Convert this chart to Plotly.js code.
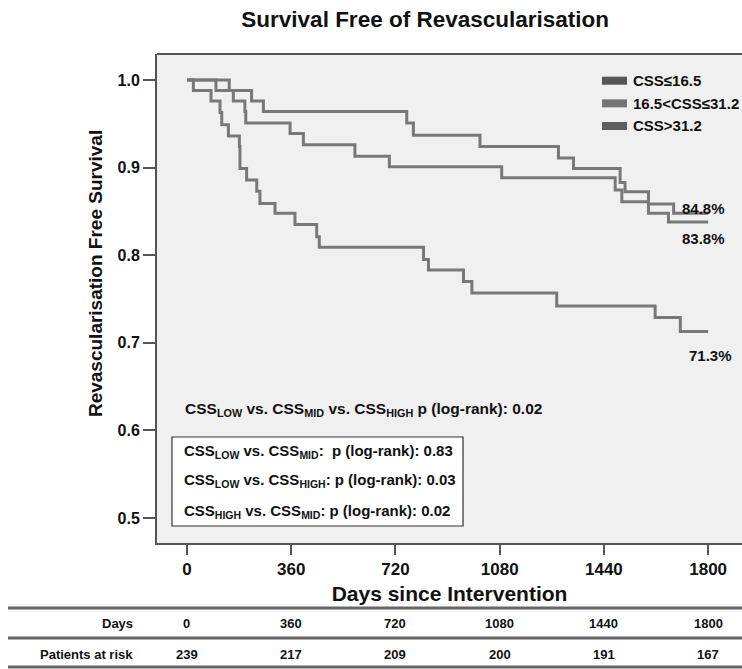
<!DOCTYPE html>
<html>
<head>
<meta charset="utf-8">
<script src="https://cdn.plot.ly/plotly-3.0.1.min.js"></script>
<style>
  html, body { margin: 0; padding: 0; background: #ffffff; }
  #chart { width: 742px; height: 669px; }
</style>
</head>
<body>
<div id="chart"></div>
<script>
// Kaplan-Meier steps: event times (days) and survival after each event
const lowDays  = [0, 146, 223, 264, 759, 782, 1012, 1283, 1335, 1496, 1513, 1594, 1681, 1800];
const lowSurv  = [1, 0.988, 0.976, 0.964, 0.951, 0.937, 0.924, 0.911, 0.899, 0.883, 0.8725, 0.8585, 0.848, 0.848];

const midDays  = [0, 100, 160, 200, 203, 356, 402, 580, 699, 1087, 1479, 1502, 1594, 1663, 1800];
const midSurv  = [1, 0.988, 0.976, 0.964, 0.951, 0.939, 0.926, 0.913, 0.901, 0.8885, 0.8745, 0.861, 0.848, 0.838, 0.838];

const highDays = [0, 22, 83, 114, 120, 143, 181, 183, 206, 241, 252, 304, 373, 448, 457, 817, 834, 955, 984, 1277, 1617, 1704, 1800];
const highSurv = [1, 0.988, 0.976, 0.963, 0.949, 0.936, 0.924, 0.899, 0.886, 0.873, 0.859, 0.848, 0.835, 0.821, 0.809, 0.795, 0.783, 0.770, 0.757, 0.742, 0.729, 0.713, 0.713];

const groupNames  = ['CSS≤16.5', '16.5<CSS≤31.2', 'CSS>31.2'];
const swatchColors = ['#555555', '#757575', '#5e5e5e'];

// Number-at-risk table
const tableDays = [0, 360, 720, 1080, 1440, 1800];
const atRisk    = [239, 217, 209, 200, 191, 167];

const yTickVals = [0.5, 0.6, 0.7, 0.8, 0.9, 1.0];
const yTickText = ['0.5', '0.6', '0.7', '0.8', '0.9', '1.0'];

// Log-rank results
const overallTest = 'CSS<sub>LOW</sub> vs. CSS<sub>MID</sub> vs. CSS<sub>HIGH</sub> p (log-rank): 0.02';
const pairTests = [
  'CSS<sub>LOW</sub> vs. CSS<sub>MID</sub>:  p (log-rank): 0.83',
  'CSS<sub>LOW</sub> vs. CSS<sub>HIGH</sub>: p (log-rank): 0.03',
  'CSS<sub>HIGH</sub> vs. CSS<sub>MID</sub>: p (log-rank): 0.02'
];

const FONT = 'Liberation Sans, Arial, Helvetica, sans-serif';
const curveColor = '#787878';
const frameColor = '#555555';

const esc = s => s.replace(/</g, '&lt;').replace(/>/g, '&gt;');
const pct = arr => (arr[arr.length - 1] * 100).toFixed(1) + '%';

const series = [
  { x: lowDays,  y: lowSurv,  name: groupNames[0] },
  { x: midDays,  y: midSurv,  name: groupNames[1] },
  { x: highDays, y: highSurv, name: groupNames[2] }
];

const traces = series.map(s => ({
  type: 'scatter',
  mode: 'lines',
  x: s.x,
  y: s.y,
  name: s.name,
  line: { shape: 'hv', color: curveColor, width: 3 },
  hoverinfo: 'skip',
  showlegend: false
}));

const annotations = [];
const shapes = [];

// Frame top edge
shapes.push({ type: 'line', xref: 'paper', yref: 'paper', x0: 0, x1: 1, y0: 1, y1: 1,
  line: { color: frameColor, width: 2 } });

// Group key
const keyY = [0.9454, 0.8991, 0.8528];
groupNames.forEach((g, i) => {
  shapes.push({ type: 'rect', xref: 'paper', yref: 'paper',
    x0: 0.7607, x1: 0.8034, y0: keyY[i] - 0.0082, y1: keyY[i] + 0.0082,
    fillcolor: swatchColors[i], line: { width: 0 } });
  annotations.push({ xref: 'paper', yref: 'paper', x: 0.8103, y: keyY[i],
    xanchor: 'left', yanchor: 'middle', showarrow: false, text: esc(g),
    font: { family: FONT, size: 15, color: '#111', weight: 'bold' } });
});

// End-of-follow-up survival labels
const endFont = { family: FONT, size: 15, color: '#111', weight: 'bold' };
annotations.push({ xref: 'x', yref: 'y', x: 1783, y: 0.853, text: pct(lowSurv), showarrow: false,
  xanchor: 'center', yanchor: 'middle', font: endFont });
annotations.push({ xref: 'x', yref: 'y', x: 1783, y: 0.8196, text: pct(midSurv), showarrow: false,
  xanchor: 'center', yanchor: 'middle', font: endFont });
annotations.push({ xref: 'x', yref: 'y', x: 1807, y: 0.685, text: pct(highSurv), showarrow: false,
  xanchor: 'center', yanchor: 'middle', font: endFont });

// Overall log-rank
annotations.push({ xref: 'paper', yref: 'paper', x: 0.0444, y: 0.274, xanchor: 'left', yanchor: 'middle',
  showarrow: false, text: overallTest, font: { family: FONT, size: 15.5, color: '#111', weight: 'bold' } });

// Pairwise box
shapes.push({ type: 'rect', xref: 'paper', yref: 'paper', x0: 0.0256, x1: 0.5231, y0: 0.0348, y1: 0.2168,
  fillcolor: '#ffffff', line: { color: '#333333', width: 1.2 } });
const pairY = [0.1861, 0.1268, 0.0634];
pairTests.forEach((t, i) => {
  annotations.push({ xref: 'paper', yref: 'paper', x: 0.0427, y: pairY[i], xanchor: 'left', yanchor: 'middle',
    showarrow: false, text: t, font: { family: FONT, size: 15, color: '#111', weight: 'bold' } });
});

// Y axis title
annotations.push({ xref: 'paper', yref: 'paper', x: -0.106, y: 0.552, textangle: -90,
  xanchor: 'center', yanchor: 'middle', showarrow: false, text: 'Revascularisation Free Survival',
  font: { family: FONT, size: 19, color: '#111', weight: 'bold' } });

// At-risk table
const ruleY = [-0.1329, -0.1943, -0.2536];
ruleY.forEach(y => shapes.push({ type: 'line', xref: 'paper', yref: 'paper', x0: -0.2547, x1: 1, y0: y, y1: y,
  line: { color: '#666666', width: 3 } }));
const rowY = [-0.1656, -0.227];
const tableFont = { family: FONT, size: 13, color: '#111', weight: 'bold' };
annotations.push({ xref: 'paper', yref: 'paper', x: -0.0376, y: rowY[0], xanchor: 'right', yanchor: 'middle',
  showarrow: false, text: 'Days', font: tableFont });
annotations.push({ xref: 'paper', yref: 'paper', x: -0.0376, y: rowY[1], xanchor: 'right', yanchor: 'middle',
  showarrow: false, text: 'Patients at risk', font: tableFont });
tableDays.forEach((d, i) => {
  annotations.push({ xref: 'x', yref: 'paper', x: d, y: rowY[0], xanchor: 'center', yanchor: 'middle',
    showarrow: false, text: String(d), font: tableFont });
  annotations.push({ xref: 'x', yref: 'paper', x: d, y: rowY[1], xanchor: 'center', yanchor: 'middle',
    showarrow: false, text: String(atRisk[i]), font: tableFont });
});

const layout = {
  width: 742,
  height: 669,
  margin: { l: 157, r: 0, t: 54, b: 126 },
  paper_bgcolor: '#ffffff',
  plot_bgcolor: '#f0f0f0',
  showlegend: false,
  title: {
    text: 'Survival Free of Revascularisation',
    x: 0.573, xanchor: 'center', xref: 'container',
    y: 0.972, yanchor: 'middle', yref: 'container',
    font: { family: FONT, size: 22.5, color: '#111', weight: 'bold' }
  },
  xaxis: {
    range: [-103.6, 1917],
    tickvals: tableDays,
    ticktext: tableDays.map(String),
    ticks: 'outside', ticklen: 10, tickwidth: 2, tickcolor: frameColor,
    showline: true, linecolor: frameColor, linewidth: 2,
    showgrid: false, zeroline: false, fixedrange: true,
    tickfont: { family: FONT, size: 17, color: '#111', weight: 'bold' },
    title: { text: 'Days since Intervention', standoff: 8,
      font: { family: FONT, size: 21, color: '#111', weight: 'bold' } },
    automargin: false
  },
  yaxis: {
    range: [0.4715, 1.0297],
    tickvals: yTickVals,
    ticktext: yTickText,
    ticks: 'outside', ticklen: 12, tickwidth: 2, tickcolor: frameColor,
    showline: true, linecolor: frameColor, linewidth: 2,
    showgrid: false, zeroline: false, fixedrange: true,
    tickfont: { family: FONT, size: 16, color: '#111', weight: 'bold' },
    automargin: false
  },
  shapes: shapes,
  annotations: annotations
};

Plotly.newPlot('chart', traces, layout, { displayModeBar: false, staticPlot: true });
</script>
</body>
</html>
